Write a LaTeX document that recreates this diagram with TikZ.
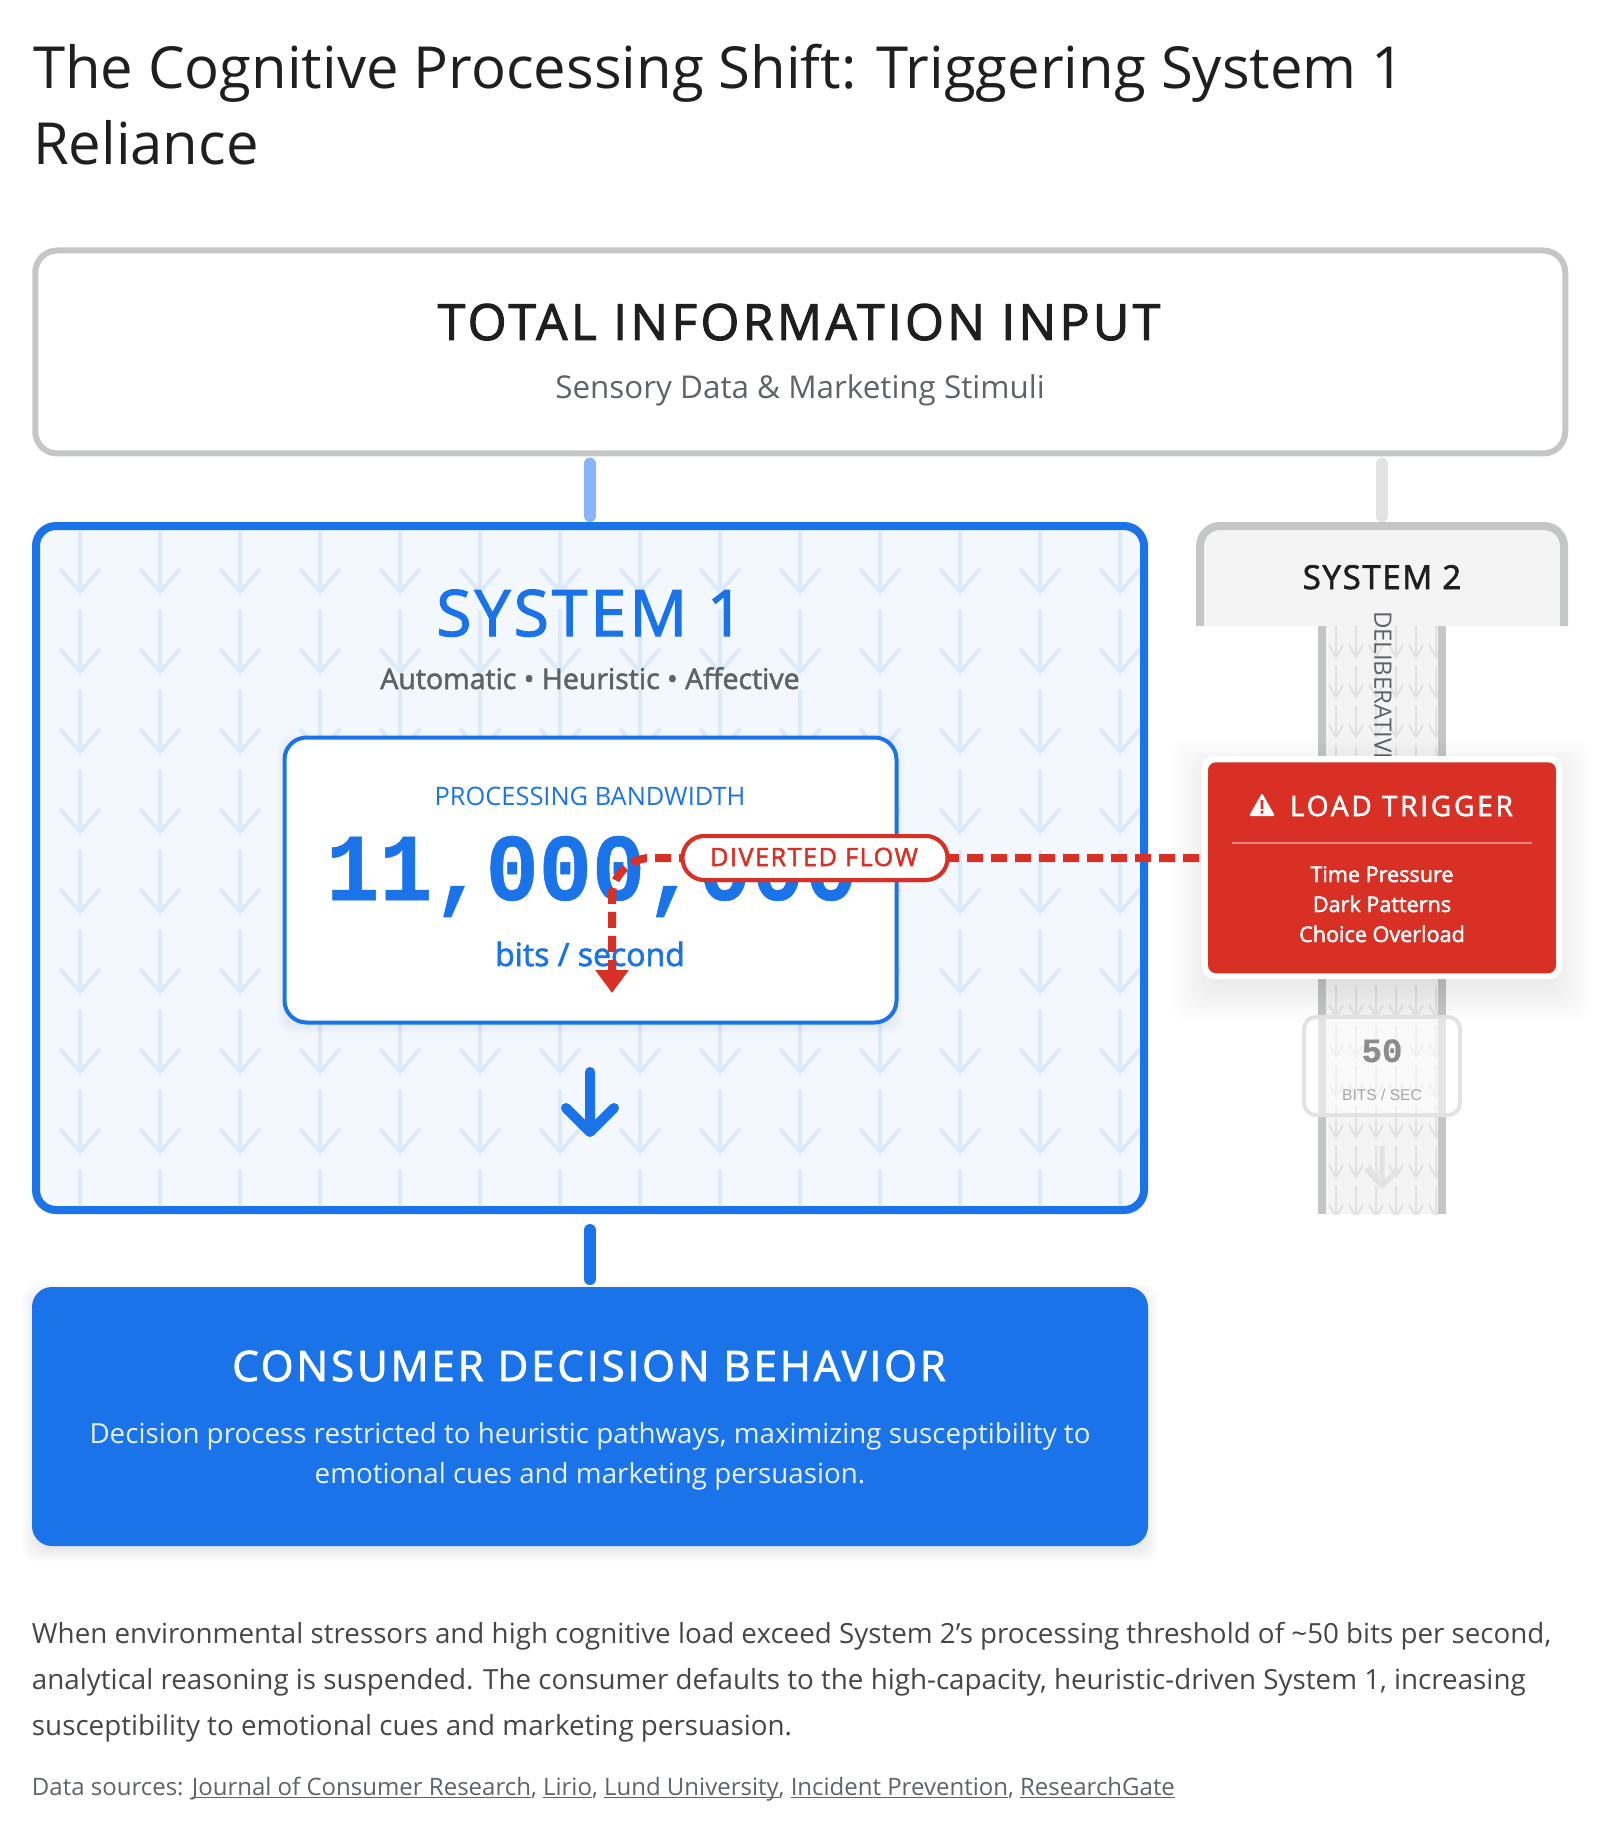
\documentclass[tikz,border=0pt]{standalone}
\usepackage{fontspec}
\setmainfont{Open Sans}
\newfontfamily\monobold[FakeBold=.6]{Liberation Mono Bold}
\newfontfamily\medfont[FakeBold=2]{Open Sans}
\newfontfamily\plainarial{Liberation Sans}
\usetikzlibrary{arrows.meta,positioning}

\definecolor{gblue}{HTML}{1A73E8}
\definecolor{gbluesoft}{HTML}{8AB4F8}
\definecolor{bluewash}{HTML}{F3F8FE}
\definecolor{bluemark}{HTML}{DCE9FB}
\definecolor{gred}{HTML}{D93025}
\definecolor{edgegray}{HTML}{C4C7C5}
\definecolor{stubgray}{HTML}{E3E3E3}
\definecolor{paper}{HTML}{F4F4F4}
\definecolor{markgray}{HTML}{E2E2E2}
\definecolor{inkdark}{HTML}{1F1F1F}
\definecolor{inkgray}{HTML}{5F6368}
\definecolor{inkbody}{HTML}{444746}

\newcommand{\softshadow}[7]{% x0 y0 x1 y1 drop reach strength
  \foreach \s in {1,...,#6}
    \fill[black,opacity=#7,rounded corners=8pt]
      (#1-#6+\s*2-2,#2+#5-#6+\s*2-2) rectangle (#3+#6-\s*2+2,#4+#5+#6-\s*2+2);
}
\newcommand{\sz}[2]{\fontsize{#1}{#2}\selectfont}
\newcommand{\track}[1]{\addfontfeature{LetterSpace=#1}}
\newcommand{\srclink}[1]{\setbox0\hbox{#1}\rlap{\rule[-1.6pt]{\wd0}{.5pt}}\box0}

\begin{document}
\begin{tikzpicture}[x=.5pt,y=-.5pt,
    every node/.style={inner sep=0pt,outer sep=0pt},
    cardbox/.style={draw=edgegray,line width=3pt,fill=white,rounded corners=11pt},
    bluebox/.style={draw=gblue,line width=4pt,fill=bluewash,rounded corners=10pt},
    valuebox/.style={draw=gblue,line width=2pt,fill=white,rounded corners=11pt},
    stub/.style={line width=6pt,line cap=round},
    divert/.style={draw=gred,line width=4pt,dash pattern=on 8pt off 4pt},
    pill/.style={draw=gred,line width=2pt,fill=white,rounded corners=11pt},
    drift/.style={line width=2pt},
    line/.style={anchor=base,text=#1},
    leftline/.style={anchor=base west,text=#1}]

\useasboundingbox (0,0) rectangle (1600,1834);

% heading
\node[leftline=inkdark,font=\sz{29}{34}] (head1) at (33,89) {The Cognitive Processing Shift: Triggering System 1};
\node[leftline=inkdark,font=\sz{29}{34}] (head2) at (33,165) {Reliance};

% input
\node[cardbox,minimum width=765pt,minimum height=101.5pt] (input) at (800.25,352) {};
\node[line=inkdark,font=\medfont\sz{25}{30}\track{6.6}] (inputname) at (799,340) {TOTAL INFORMATION INPUT};
\node[line=inkgray,font=\sz{15.7}{20}] (inputsub) at (800,399) {Sensory Data \& Marketing Stimuli};

% system 1
\node[bluebox,minimum width=554pt,minimum height=342pt] (sys1) at (590,868) {};
\begin{scope}
  \clip[rounded corners=8pt] (40,530) rectangle (1140,1206);
  \foreach \x in {80,160,...,1120}
    \foreach \y in {530,610,...,1170}
      \draw[bluemark,drift] (\x,\y) -- (\x,\y+62) (\x-20,\y+39) -- (\x,\y+62) -- (\x+20,\y+39);
\end{scope}
\node[line=gblue,font=\medfont\sz{32}{38}\track{5}] (sys1name) at (590,636) {SYSTEM 1};
\node[line=inkgray,font=\medfont\sz{14.25}{20}] (sys1sub) at (590,689) {Automatic • Heuristic • Affective};

\softshadow{283}{736}{898}{1024}{4}{6}{.012}
\node[valuebox,minimum width=306pt,minimum height=142.5pt] (rate) at (590.5,880) {};
\node[line=gblue,font=\sz{12.7}{16}] (ratename) at (590,805) {PROCESSING BANDWIDTH};
\node[line=gblue,font=\monobold\sz{44.3}{50}] (ratevalue) at (592,900) {\scalebox{1}[1.08]{11,000,000}};
\node[line=gblue,font=\medfont\sz{16}{20}] (rateunit) at (590,966) {bits / second};

\draw[gblue,line width=5pt,line cap=round,line join=round]
  (590,1072) -- (590,1132) (566,1108) -- (590,1132) -- (614,1108);

% system 2
\fill[paper] (1322,626) rectangle (1442,1214);
\begin{scope}
  \clip (1326,626) rectangle (1438,1214);
  \foreach \x in {1336,1356,...,1436}
    \foreach \y in {626,666,...,1186}
      \draw[markgray,line width=1pt] (\x,\y) -- (\x,\y+31) (\x-7,\y+19) -- (\x,\y+31) -- (\x+7,\y+19);
\end{scope}
\draw[edgegray,line width=4pt] (1322,626) -- (1322,1214) (1442,626) -- (1442,1214);
\fill[paper] (1200,626) {[rounded corners=10pt] -- (1200,526) -- (1564,526)} -- (1564,626) -- cycle;
\draw[edgegray,line width=4pt,rounded corners=10pt] (1200,626) -- (1200,526) -- (1564,526) -- (1564,626);
\node[minimum width=186pt,minimum height=52pt] (sys2) at (1382,574) {};
\node[line=inkdark,font=\medfont\sz{16.5}{20}\track{5}] (sys2name) at (1382,589) {SYSTEM 2};
\node[rotate=-90,anchor=west,text=inkgray,font=\sz{12}{14}] (sys2side) at (1383,611) {DELIBERATIVE};

\node[draw=stubgray,line width=2pt,fill=white,fill opacity=.55,rounded corners=6pt,minimum width=78pt,minimum height=49pt] (slow) at (1382,1066) {};
\node[line=black!45,font=\monobold\sz{17}{20}] (slowvalue) at (1382,1062) {50};
\node[line=black!35,font=\plainarial\sz{7.8}{10}] (slowunit) at (1382,1100) {BITS / SEC};
\draw[black!11,line width=2.5pt] (1382,1146) -- (1382,1186) (1366,1169) -- (1382,1186) -- (1398,1169);

% consumer
\softshadow{32}{1287}{1148}{1546}{6}{10}{.012}
\node[fill=gblue,rounded corners=10pt,minimum width=558pt,minimum height=129.5pt] (consumer) at (590,1416.5) {};
\node[line=white,font=\medfont\sz{21}{24}\track{7}] (consumername) at (589,1381) {CONSUMER DECISION BEHAVIOR};
\node[line=white!90!gblue,font=\sz{13.87}{18}] (consumer1) at (590,1443) {Decision process restricted to heuristic pathways, maximizing susceptibility to};
\node[line=white!90!gblue,font=\sz{13.87}{18}] (consumer2) at (590,1483) {emotional cues and marketing persuasion.};

% connectors between the boxes
\draw[gbluesoft,stub,shorten <=5pt,shorten >=5pt] (input.south -| sys1) -- (sys1.north);
\draw[stubgray,stub,shorten <=5pt,shorten >=3pt] (input.south -| sys2) -- (sys2.north);
\draw[gblue,stub,shorten <=10pt,shorten >=4pt] (sys1.south) -- (consumer.north);

% trigger
\softshadow{1202}{756}{1562}{979}{12}{30}{.003}
\node[fill=white,rounded corners=6pt,minimum width=180pt,minimum height=111.5pt] (triggeredge) at (1382,867.5) {};
\node[fill=gred,rounded corners=4pt,minimum width=174pt,minimum height=105.5pt] (trigger) at (1382,867.75) {};
\fill[white,rounded corners=1pt] (1262,793) -- (1275,816) -- (1249,816) -- cycle;
\fill[gred] (1260.6,800) rectangle (1263.4,809) (1260.6,810.5) rectangle (1263.4,813.5);
\node[anchor=base west,text=white,font=\medfont\sz{14}{18}\track{10}] (triggername) at (1290,816) {LOAD TRIGGER};
\draw[white,opacity=.4,line width=1pt] (1232,843) -- (1532,843);
\node[line=white,font=\medfont\sz{10.8}{14}] (trigger1) at (1382,882) {Time Pressure};
\node[line=white,font=\medfont\sz{10.8}{14}] (trigger2) at (1382,912) {Dark Patterns};
\node[line=white,font=\medfont\sz{10.8}{14}] (trigger3) at (1382,942) {Choice Overload};

% diverted flow
\coordinate (bend) at (612,858);
\coordinate (divtip) at (612,993);
\node[pill,minimum width=132.5pt,minimum height=22pt] (flow) at (815,858) {};
\draw[divert,shorten <=1.5pt,-{Triangle[width=16pt,length=11.5pt]}]
  (triggeredge.west |- flow) -- ([xshift=19pt]bend)
  .. controls ([xshift=9pt]bend) and ([yshift=-9pt]bend) .. ([yshift=-19pt]bend) -- (divtip);
\node[pill,minimum width=132.5pt,minimum height=22pt] (flowtag) at (815,858) {};
\node[line=gred,font=\medfont\sz{12.6}{16}\track{6}] (flowname) at (814,866) {DIVERTED FLOW};

% notes
\node[leftline=inkbody,font=\sz{13.88}{18}] (note1) at (32,1643) {When environmental stressors and high cognitive load exceed System 2's processing threshold of \textasciitilde50 bits per second,};
\node[leftline=inkbody,font=\sz{13.88}{18}] (note2) at (32,1689) {analytical reasoning is suspended. The consumer defaults to the high-capacity, heuristic-driven System 1, increasing};
\node[leftline=inkbody,font=\sz{13.88}{18}] (note3) at (32,1735) {susceptibility to emotional cues and marketing persuasion.};
\node[leftline=inkgray,font=\sz{12}{16}] (sources) at (32,1795) {Data sources: \srclink{Journal of Consumer Research}, \srclink{Lirio}, \srclink{Lund University}, \srclink{Incident Prevention}, \srclink{ResearchGate}};

\end{tikzpicture}
\end{document}
